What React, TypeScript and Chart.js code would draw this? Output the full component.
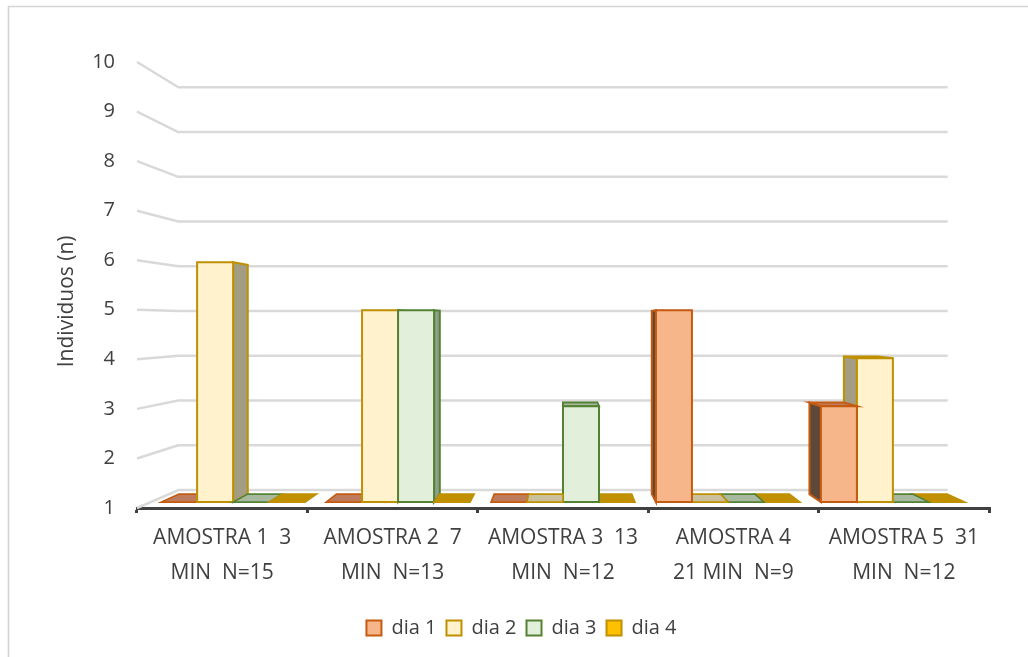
import React, { useEffect, useRef } from "react";
import { Chart, registerables } from "chart.js";

Chart.register(...registerables);

// ---- data ----
const categories: string[][] = [
  ["AMOSTRA 1  3", "MIN  N=15"],
  ["AMOSTRA 2  7", "MIN  N=13"],
  ["AMOSTRA 3  13", "MIN  N=12"],
  ["AMOSTRA 4", "21 MIN  N=9"],
  ["AMOSTRA 5  31", "MIN  N=12"],
];
const seriesNames = ["dia 1", "dia 2", "dia 3", "dia 4"];
const dia1 = [1, 1, 1, 5, 3];
const dia2 = [6, 5, 1, 1, 4];
const dia3 = [1, 5, 3, 1, 1];
const dia4 = [1, 1, 1, 1, 1];
const yMin = 1;
const yMax = 10;
const yStep = 1;
const yTitle = "Individuos (n)";

// ---- styles ----
const FONT = "'Open Sans', 'Noto Sans', sans-serif";
const TEXT = "#404040";
const frontColors = ["#F7B68A", "#FFF2CC", "#E2EFDA", "#FFC000"];
const borderColors = ["#C55A11", "#BF9000", "#548235", "#BF9000"];
const sideColors = ["#5E4838", "#A39D84", "#8E9F86", "#8A6D00"];
const topColors = ["#BE7C5C", "#CBC09E", "#A8B9A0", "#C09000"];

const S_FRONT = 0.968; // bar front faces relative to axis plane
const S_BACK = 0.925; // bar back faces
const S_WALL = 0.903; // back wall (gridlines)

type Pt = [number, number];

const threeD = {
  id: "threeD",
  beforeDraw(chart: any) {
    const ctx = chart.ctx;
    ctx.save();
    ctx.strokeStyle = "#d4d4d4";
    ctx.lineWidth = 1.6;
    ctx.beginPath();
    ctx.moveTo(8.5, chart.height);
    ctx.lineTo(8.5, 6.5);
    ctx.lineTo(chart.width, 6.5);
    ctx.stroke();
    ctx.restore();
  },
  beforeDatasetsDraw(chart: any) {
    const { ctx, chartArea: a, scales } = chart;
    const vx = (a.left + a.right) / 2;
    const vy = a.top + 0.585 * (a.bottom - a.top);
    const P = (s: number, x: number, y: number): Pt => [vx + (x - vx) * s, vy + (y - vy) * s];
    const poly = (pts: Pt[], fill: string, stroke: string, lw = 2) => {
      ctx.beginPath();
      ctx.moveTo(pts[0][0], pts[0][1]);
      for (let i = 1; i < pts.length; i++) ctx.lineTo(pts[i][0], pts[i][1]);
      ctx.closePath();
      ctx.fillStyle = fill;
      ctx.fill();
      ctx.strokeStyle = stroke;
      ctx.lineWidth = lw;
      ctx.stroke();
    };
    ctx.save();
    // gridlines on the back wall with slanted side-wall part
    ctx.strokeStyle = "#d9d9d9";
    ctx.lineWidth = 2.5;
    ctx.lineJoin = "round";
    scales.y.ticks.forEach((t: any) => {
      const yF = scales.y.getPixelForValue(t.value);
      const b1 = P(S_WALL, a.left, yF);
      const b2 = P(S_WALL, a.right, yF);
      ctx.beginPath();
      ctx.moveTo(a.left, yF);
      ctx.lineTo(b1[0], b1[1]);
      ctx.lineTo(b2[0], b2[1]);
      ctx.stroke();
    });

    // bars
    const floorY = scales.y.getPixelForValue(yMin);
    const items: any[] = [];
    chart.data.datasets.forEach((ds: any, di: number) => {
      const meta = chart.getDatasetMeta(di);
      meta.data.forEach((el: any) => {
        const p = el.getProps(["x", "y", "base", "width"], true);
        items.push({ di, p });
      });
    });
    items.sort((A, B) => Math.abs(B.p.x - vx) - Math.abs(A.p.x - vx));
    ctx.lineJoin = "miter";
    for (const it of items) {
      const { di, p } = it;
      const x1 = p.x - p.width / 2;
      const x2 = p.x + p.width / 2;
      const yT = Math.min(p.y, p.base);
      const yB = Math.min(Math.max(p.y, p.base), floorY);
      const fTL = P(S_FRONT, x1, yT), fTR = P(S_FRONT, x2, yT);
      const fBL = P(S_FRONT, x1, yB), fBR = P(S_FRONT, x2, yB);
      const bTL = P(S_BACK, x1, yT), bTR = P(S_BACK, x2, yT);
      const bBL = P(S_BACK, x1, yB), bBR = P(S_BACK, x2, yB);
      const bc = borderColors[di];
      if (yB - yT < 0.5) {
        poly([fBL, fBR, bBR, bBL], topColors[di], bc, 1.6);
        continue;
      }
      if (x2 < vx) poly([fTR, bTR, bBR, fBR], sideColors[di], bc, 2);
      else if (x1 > vx) poly([fTL, bTL, bBL, fBL], sideColors[di], bc, 2);
      if (yT > vy) poly([fTL, fTR, bTR, bTL], topColors[di], bc, 2);
      poly([fTL, fTR, fBR, fBL], frontColors[di], bc, 2);
    }
    ctx.restore();
    return false;
  },
};

export default function App() {
  const ref = useRef<HTMLCanvasElement | null>(null);
  useEffect(() => {
    if (!ref.current) return;
    const series = [dia1, dia2, dia3, dia4];
    const chart = new Chart(ref.current, {
      type: "bar",
      data: {
        labels: categories,
        datasets: series.map((d, i) => ({
          label: seriesNames[i],
          data: d,
          base: yMin,
          backgroundColor: frontColors[i],
          borderColor: borderColors[i],
          borderWidth: 2,
          categoryPercentage: 0.873,
          barPercentage: 1,
        })),
      },
      options: {
        responsive: false,
        animation: false,
        layout: { padding: { left: 54, right: 39, top: 62, bottom: 9 } },
        plugins: {
          tooltip: { enabled: false },
          legend: {
            position: "bottom",
            labels: {
              boxWidth: 15,
              boxHeight: 15,
              padding: 10,
              color: TEXT,
              font: { family: FONT, size: 20 },
            },
          },
        },
        scales: {
          x: {
            grid: {
              display: true,
              drawOnChartArea: false,
              drawTicks: true,
              tickLength: 5,
              color: "#404040",
              lineWidth: 3,
              offset: true,
            },
            border: { display: true, color: "#404040", width: 3 },
            ticks: {
              color: TEXT,
              padding: 7,
              font: { family: FONT, size: 21, lineHeight: 1.67 },
              maxRotation: 0,
              autoSkip: false,
            },
            afterFit: (s: any) => {
              s.height = 100;
            },
          },
          y: {
            min: yMin,
            max: yMax,
            grid: { display: false, drawTicks: false },
            border: { display: false },
            ticks: {
              stepSize: yStep,
              color: TEXT,
              padding: 22,
              font: { family: FONT, size: 20 },
            },
            title: {
              display: true,
              text: yTitle + "\u00a0\u00a0\u00a0\u00a0\u00a0\u00a0",
              color: TEXT,
              font: { family: FONT, size: 21 },
              padding: { top: 0, bottom: 0 },
            },
            afterFit: (s: any) => {
              s.width = 83;
            },
          },
        },
      } as any,
      plugins: [threeD as any],
    });
    return () => chart.destroy();
  }, []);
  return (
    <div style={{ position: "fixed", left: 0, top: 0, width: 1028, height: 657, background: "#fff" }}>
      <canvas ref={ref} width={1028} height={657} style={{ display: "block" }} />
    </div>
  );
}
